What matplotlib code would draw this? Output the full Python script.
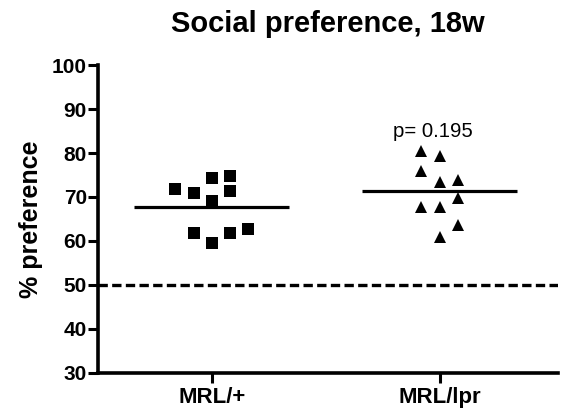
import numpy as np
import matplotlib.pyplot as plt

plt.rcParams['font.family'] = ['Liberation Sans', 'DejaVu Sans']

# Groups and their x positions
groups = ["MRL/+", "MRL/lpr"]
group_pos = [1, 2]

# % preference per animal
mrl_plus = [71.8, 70.8, 74.4, 74.7, 71.4, 69.1, 61.9, 59.6, 61.8, 62.7]
mrl_plus_offset = [-0.16, -0.08, 0.0, 0.08, 0.08, 0.0, -0.08, 0.0, 0.08, 0.16]

mrl_lpr = [80.5, 79.3, 75.8, 73.4, 73.9, 69.7, 67.7, 67.7, 63.7, 61.0]
mrl_lpr_offset = [-0.08, 0.0, -0.08, 0.0, 0.08, 0.08, -0.08, 0.0, 0.08, 0.0]

chance_level = 50
p_label = "p= 0.195"
y_ticks = [30, 40, 50, 60, 70, 80, 90, 100]


def draw_group(ax, x, values, offsets, marker, size):
    xs = [x + o for o in offsets]
    ax.plot(xs, values, linestyle='none', marker=marker, markersize=size,
            color='black', markeredgewidth=0)
    # mean line for the group
    ax.plot([x - 0.34, x + 0.34], [np.mean(values)] * 2, color='black',
            linewidth=2.3, solid_capstyle='butt')


def main():
    fig = plt.figure(figsize=(5.69, 4.12), dpi=100)
    ax = fig.add_axes([0.172, 0.095, 0.809, 0.747])

    draw_group(ax, group_pos[0], mrl_plus, mrl_plus_offset, 's', 8.2)
    draw_group(ax, group_pos[1], mrl_lpr, mrl_lpr_offset, '^', 8.0)

    # chance level
    ax.axhline(chance_level, color='black', linewidth=2.4,
               linestyle=(0, (2.8, 1.3)))

    ax.text(1.97, 84.8, p_label, fontsize=14.7, ha='center', va='center')

    ax.set_xlim(0.5, 2.52)
    ax.set_ylim(30, 100)
    ax.set_xticks(group_pos)
    ax.set_xticklabels(groups, fontsize=16, fontweight='bold')
    ax.set_yticks(y_ticks)
    ax.set_yticklabels([str(t) for t in y_ticks], fontsize=15, fontweight='bold')

    for side in ['top', 'right']:
        ax.spines[side].set_visible(False)
    for side in ['left', 'bottom']:
        ax.spines[side].set_linewidth(2.6)
    ax.tick_params(width=2.2, length=7)
    ax.tick_params(axis='y', pad=1)
    ax.tick_params(axis='x', pad=3.5)

    ax.set_ylabel("% preference", fontsize=18, fontweight='bold')
    ax.yaxis.set_label_coords(-0.12, 0.5)
    ax.set_title("Social preference, 18w", fontsize=21, fontweight='bold', pad=23.5)

    fig.savefig("out.png", dpi=100)


if __name__ == "__main__":
    main()
